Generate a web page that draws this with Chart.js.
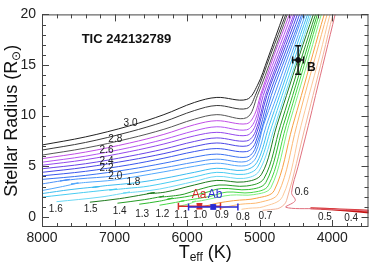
<!DOCTYPE html>
<html>
<head>
<meta charset="utf-8">
<script src="https://cdn.jsdelivr.net/npm/chart.js@4.4.1/dist/chart.umd.min.js"></script>
<style>
  html, body { margin: 0; padding: 0; background: #fff; }
  #wrap { width: 374px; height: 264px; position: relative; }
</style>
</head>
<body>
<div id="wrap"><canvas id="hr"></canvas></div>
<script>
/* ── DATA: evolutionary tracks, [Teff (K), R (Rsun)] ── */
const m30 = [[8000,7.1],[7400,7.9],[6790,9.0],[6320,10.1],[5900,11.3],[5590,11.8],[5180,11.6],[5030,13.0],[4890,15.6],[4780,17.8],[4670,20],[4620,21]];
const m29 = [[8000,6.6],[7400,7.35],[6790,8.4],[6320,9.4],[5900,10.5],[5590,11.0],[5180,10.7],[5060,12],[4850,16],[4640,20],[4590,21]];
const m28 = [[8000,6.1],[7400,6.8],[6790,7.75],[6320,8.65],[5900,9.65],[5590,10.1],[5180,9.8],[5030,12],[4820,16],[4620,20],[4580,21]];
const m27 = [[8000,5.75],[7400,6.4],[6790,7.3],[6320,8.15],[5900,9.1],[5590,9.5],[5180,9.2],[5070,10.1],[4990,12],[4800,16],[4590,20],[4550,21]];
const m26 = [[8000,5.4],[7400,6.0],[6790,6.85],[6320,7.65],[5900,8.5],[5590,8.9],[5180,8.6],[5060,9.6],[4975,12],[4770,16],[4560,20],[4520,21]];
const m25 = [[8000,5.1],[7400,5.65],[6790,6.45],[6320,7.2],[5900,8.0],[5590,8.35],[5180,8.05],[5060,9.0],[4950,12],[4740,16],[4530,20],[4490,21]];
const m24 = [[8000,4.75],[7400,5.25],[6790,6.0],[6320,6.7],[5900,7.45],[5590,7.8],[5180,7.5],[5060,8.4],[4920,12],[4715,16],[4510,20],[4470,21]];
const m23 = [[8000,4.4],[7400,4.9],[6790,5.6],[6320,6.25],[5900,6.95],[5590,7.3],[5180,7.0],[5060,7.9],[4900,12],[4690,16],[4480,20],[4440,21]];
const m22 = [[8000,4.05],[7400,4.5],[6790,5.15],[6320,5.8],[5900,6.45],[5590,6.75],[5180,6.45],[5060,7.3],[4870,12],[4660,16],[4450,20],[4410,21]];
const m21 = [[8000,3.7],[7400,4.1],[6790,4.7],[6320,5.3],[5900,5.9],[5590,6.2],[5180,5.9],[5060,6.8],[4840,12],[4630,16],[4420,20],[4380,21]];
const m20 = [[8000,3.25],[7620,3.7],[7750,3.55],[7500,3.75],[7000,4.05],[6320,4.85],[5900,5.4],[5590,5.7],[5200,5.45],[5060,6.3],[4950,9],[4800,12],[4600,16],[4400,20],[4350,21]];
const m19 = [[8000,2.6],[7750,2.95],[7500,3.35],[7600,3.25],[7400,3.4],[7000,3.65],[6320,4.45],[5900,5.0],[5590,5.3],[5200,5.05],[5050,5.85],[4910,9],[4760,12],[4565,16],[4370,20],[4320,21]];
const m18 = [[8000,2.3],[7600,2.7],[7200,3.0],[7310,2.9],[7100,3.1],[6730,3.35],[6320,3.8],[5900,4.4],[5590,4.8],[5220,4.6],[5040,5.35],[4870,9],[4725,12],[4535,16],[4340,20],[4290,21]];
const m17 = [[8000,1.95],[7500,2.35],[6970,2.75],[7070,2.65],[6850,2.8],[6520,3.05],[5900,3.95],[5590,4.4],[5220,4.2],[5030,4.9],[4830,9],[4690,12],[4500,16],[4315,20],[4270,21]];
const m16 = [[7800,1.5],[7200,1.95],[6790,2.45],[6880,2.35],[6650,2.5],[6380,2.75],[5900,3.5],[5590,4.0],[5220,3.8],[5010,4.5],[4790,9],[4655,12],[4470,16],[4290,20],[4240,21]];
const m15 = [[7340,1.45],[6930,1.8],[6450,2.4],[6550,2.3],[6300,2.45],[5900,3.15],[5590,3.6],[5220,3.45],[4975,4.2],[4765,9],[4630,12],[4450,16],[4260,20],[4210,21]];
const m14 = [[6960,1.35],[6590,1.7],[6320,2.05],[6380,1.95],[6160,2.1],[6040,2.25],[5840,2.7],[5560,3.15],[5180,3.05],[4940,3.8],[4715,9],[4585,12],[4410,16],[4230,20],[4180,21]];
const m13 = [[6660,1.25],[6380,1.55],[6200,1.85],[6270,1.75],[6100,1.9],[5970,2.05],[5770,2.35],[5530,2.8],[5150,2.7],[4915,3.4],[4675,9],[4545,12],[4375,16],[4205,20],[4160,21]];
const m12 = [[6380,1.15],[6180,1.4],[6040,1.6],[6110,1.5],[5950,1.7],[5860,1.8],[5670,2.05],[5450,2.45],[5120,2.4],[4880,3.1],[4635,9],[4510,12],[4345,16],[4180,20],[4130,21]];
const m11 = [[6110,1.05],[5970,1.3],[5880,1.55],[5930,1.5],[5800,1.6],[5700,1.75],[5400,2.15],[5080,2.2],[4845,2.9],[4600,9],[4475,12],[4310,16],[4150,20],[4100,21]];
const m10 = [[5810,0.95],[5700,1.15],[5590,1.35],[5360,1.6],[5040,1.85],[4800,2.6],[4545,9],[4425,12],[4270,16],[4110,20],[4060,21]];
const m09 = [[5530,0.85],[5450,1.0],[5260,1.25],[4990,1.45],[4745,2.3],[4490,9],[4380,12],[4225,16],[4070,20],[4020,21]];
const m08 = [[5250,0.75],[5150,0.85],[4950,1.0],[4685,2.0],[4430,9],[4320,12],[4170,16],[4030,20],[3980,21]];
const m07 = [[4960,0.65],[4850,0.72],[4720,0.9],[4630,1.6],[4370,9],[4265,12],[4125,16],[3990,20],[3940,21]];
const m06 = [[3480,0.6],[3800,0.7],[4200,0.8],[4640,0.95],[4510,1.6],[4560,2.4],[4470,5],[4330,9],[4230,12],[4095,16],[3960,20],[3930,21]];
const m05 = [[4300,0.85],[3900,0.75],[3480,0.6]];
const m04 = [[4150,0.8],[3800,0.62],[3480,0.42]];

const tracks = [m30, m29, m28, m27, m26, m25, m24, m23, m22, m21, m20, m19, m18, m17,
                m16, m15, m14, m13, m12, m11, m10, m09, m08, m07, m06, m05, m04];
const trackColors = ['#222222','#3a3a3a','#555555','#c04ee6','#b454f2','#9448ec','#6a44e8',
                     '#4a46e6','#3a56ec','#3a72f2','#4a90f8','#52a8fc','#3cbcf0','#48ccf2',
                     '#6cd8f4','#1e7a1e','#249a24','#2cb82c','#44d844','#7cf07c','#f7a040',
                     '#fdb870','#fcc898','#f2b49a','#e0707e','#d42222','#c41414'];

// mass labels on the tracks
const massLabels = ['3.0','2.8','2.6','2.4','2.2','2.0','1.8','1.6','1.5','1.4','1.3','1.2','1.1','1.0','0.9','0.8','0.7','0.6','0.5','0.4'];
const massLabelTeff = [6780,6990,7110,7110,7110,6990,6740,7810,7330,6930,6620,6340,6080,5820,5520,5230,4920,4420,4100,3740];
const massLabelRad  = [9.24,7.71,6.57,5.52,4.76,4.0,3.43,0.76,0.76,0.57,0.29,0.29,0.19,0.19,0.19,0.0,0.1,2.48,0.0,-0.1];

// stars
const starNames   = ['Aa', 'Ab', 'B'];
const starTeff    = [5830, 5640, 4470];
const starTeffErr = [290, 340, 75];
const starRad     = [1.05, 0.98, 15.5];
const starRadErr  = [0.25, 0.2, 1.4];
const starColors  = ['#d42a2a', '#2a2ad4', '#111111'];
const starLabelTeff = [5835, 5616, 4287];
const starLabelRad  = [2.19, 2.19, 14.76];

const xTicks = [8000, 7000, 6000, 5000, 4000];
const yTicks = [0, 5, 10, 15, 20];

/* ── DATASETS ── */
const FONT = '"Liberation Sans", Arial, Helvetica, sans-serif';

const starSets = [];
starNames.forEach((name, i) => {
  const c = starColors[i], T = starTeff[i], R = starRad[i];
  const ord = 2 - i;
  starSets.push({
    data: [{ x: T - starTeffErr[i], y: R }, { x: T + starTeffErr[i], y: R }],
    showLine: true, borderColor: c, borderWidth: 1.5,
    pointStyle: 'line', rotation: 90, pointRadius: 3.5,
    pointBorderColor: c, pointBorderWidth: 1.5, order: ord,
  });
  starSets.push({
    data: [{ x: T, y: R - starRadErr[i] }, { x: T, y: R + starRadErr[i] }],
    showLine: true, borderColor: c, borderWidth: 1.5,
    pointStyle: 'line', rotation: 0, pointRadius: 3,
    pointBorderColor: c, pointBorderWidth: 1.5, order: ord,
  });
  starSets.push({
    data: [{ x: T, y: R }],
    pointStyle: name === 'B' ? 'circle' : 'rect',
    pointRadius: name === 'B' ? 2.5 : 3,
    backgroundColor: c, borderColor: c, order: ord,
  });
});

const trackSets = tracks.map((pts, i) => ({
  data: pts.map(([x, y]) => ({ x, y })),
  borderColor: trackColors[i],
  borderWidth: i >= 25 ? 1.8 : 1,   // 0.5 / 0.4 drawn as the heavy red band
  showLine: true,
  pointRadius: 0,
  tension: 0.35,
  order: 10,
}));

/* ── PLUGINS ── */
const frame = {
  id: 'frame',
  afterDatasetsDraw(chart) {
    const { ctx, chartArea: a, scales: { x, y } } = chart;
    ctx.save();
    ctx.strokeStyle = '#444';
    ctx.lineWidth = 1;
    ctx.strokeRect(a.left + 0.5, a.top + 0.5, a.width - 1, a.height - 1);
    ctx.beginPath();
    for (let t = 3600; t <= 8000; t += 200) {
      const px = Math.round(x.getPixelForValue(t)) + 0.5;
      const len = t % 1000 === 0 ? 7 : 4;
      ctx.moveTo(px, a.bottom); ctx.lineTo(px, a.bottom - len);
      ctx.moveTo(px, a.top); ctx.lineTo(px, a.top + len);
    }
    for (let r = 0; r <= 20; r += 1) {
      const py = Math.round(y.getPixelForValue(r)) + 0.5;
      const len = r % 5 === 0 ? 7 : 4;
      ctx.moveTo(a.left, py); ctx.lineTo(a.left + len, py);
      ctx.moveTo(a.right, py); ctx.lineTo(a.right - len, py);
    }
    ctx.stroke();
    ctx.restore();
  }
};

const annot = {
  id: 'annot',
  afterDatasetsDraw(chart) {
    const { ctx, scales: { x, y } } = chart;
    ctx.save();
    ctx.textAlign = 'center';
    ctx.textBaseline = 'middle';

    ctx.fillStyle = '#222';
    ctx.font = '10px ' + FONT;
    massLabels.forEach((t, i) => {
      ctx.fillText(t, x.getPixelForValue(massLabelTeff[i]), y.getPixelForValue(massLabelRad[i]));
    });

    starNames.forEach((n, i) => {
      ctx.fillStyle = starColors[i];
      ctx.font = (n === 'B' ? 'bold 12px ' : '12px ') + FONT;
      ctx.fillText(n, x.getPixelForValue(starLabelTeff[i]), y.getPixelForValue(starLabelRad[i]));
    });

    ctx.fillStyle = '#111';
    ctx.font = 'bold 13px ' + FONT;
    ctx.fillText('TIC 242132789', x.getPixelForValue(6836), y.getPixelForValue(17.52));
    ctx.restore();
  },
  afterDraw(chart) {
    const { ctx, chartArea: a } = chart;
    ctx.save();
    ctx.fillStyle = '#111';
    ctx.textBaseline = 'alphabetic';
    ctx.textAlign = 'left';

    // x title: T_eff (K)
    const big = '18px ' + FONT, small = '12px ' + FONT;
    ctx.font = big; const wT = ctx.measureText('T').width;
    ctx.font = small; const wE = ctx.measureText('eff').width;
    ctx.font = big; const wK = ctx.measureText(' (K)').width;
    let cx = (a.left + a.right) / 2 - (wT + wE + wK) / 2;
    const by = 258;
    ctx.font = big; ctx.fillText('T', cx, by); cx += wT;
    ctx.font = small; ctx.fillText('eff', cx, by + 3); cx += wE;
    ctx.font = big; ctx.fillText(' (K)', cx, by);

    // y title: Stellar Radius (R_sun)
    ctx.translate(17, (a.top + a.bottom) / 2);
    ctx.rotate(-Math.PI / 2);
    ctx.font = big; const w1 = ctx.measureText('Stellar Radius (R').width;
    ctx.font = small; const w2 = ctx.measureText('\u2299').width;
    ctx.font = big; const w3 = ctx.measureText(')').width;
    let ux = -(w1 + w2 + w3) / 2;
    ctx.font = big; ctx.fillText('Stellar Radius (R', ux, 0); ux += w1;
    ctx.font = small; ctx.fillText('\u2299', ux, 3); ux += w2;
    ctx.font = big; ctx.fillText(')', ux, 0);
    ctx.restore();
  }
};

/* ── CHART ── */
new Chart(document.getElementById('hr'), {
  type: 'scatter',
  data: { datasets: [...starSets, ...trackSets] },
  options: {
    responsive: true,
    maintainAspectRatio: false,
    animation: false,
    layout: { padding: { top: 7, right: 2, left: 0, bottom: 0 } },
    plugins: { legend: { display: false }, tooltip: { enabled: false } },
    scales: {
      x: {
        type: 'linear', reverse: true, min: 3500, max: 8000,
        grid: { display: false, drawTicks: false },
        border: { display: false },
        ticks: { padding: 3, color: '#222', font: { size: 14, family: FONT }, callback: v => String(v) },
        afterBuildTicks: s => { s.ticks = xTicks.map(v => ({ value: v })); },
        afterFit: s => { s.height = 37; },
      },
      y: {
        type: 'linear', min: -1, max: 20,
        grid: { display: false, drawTicks: false },
        border: { display: false },
        ticks: { padding: 6, color: '#222', font: { size: 14, family: FONT }, callback: v => String(v) },
        afterBuildTicks: s => { s.ticks = yTicks.map(v => ({ value: v })); },
        afterFit: s => { s.width = 42; },
      }
    }
  },
  plugins: [frame, annot]
});
</script>
</body>
</html>
